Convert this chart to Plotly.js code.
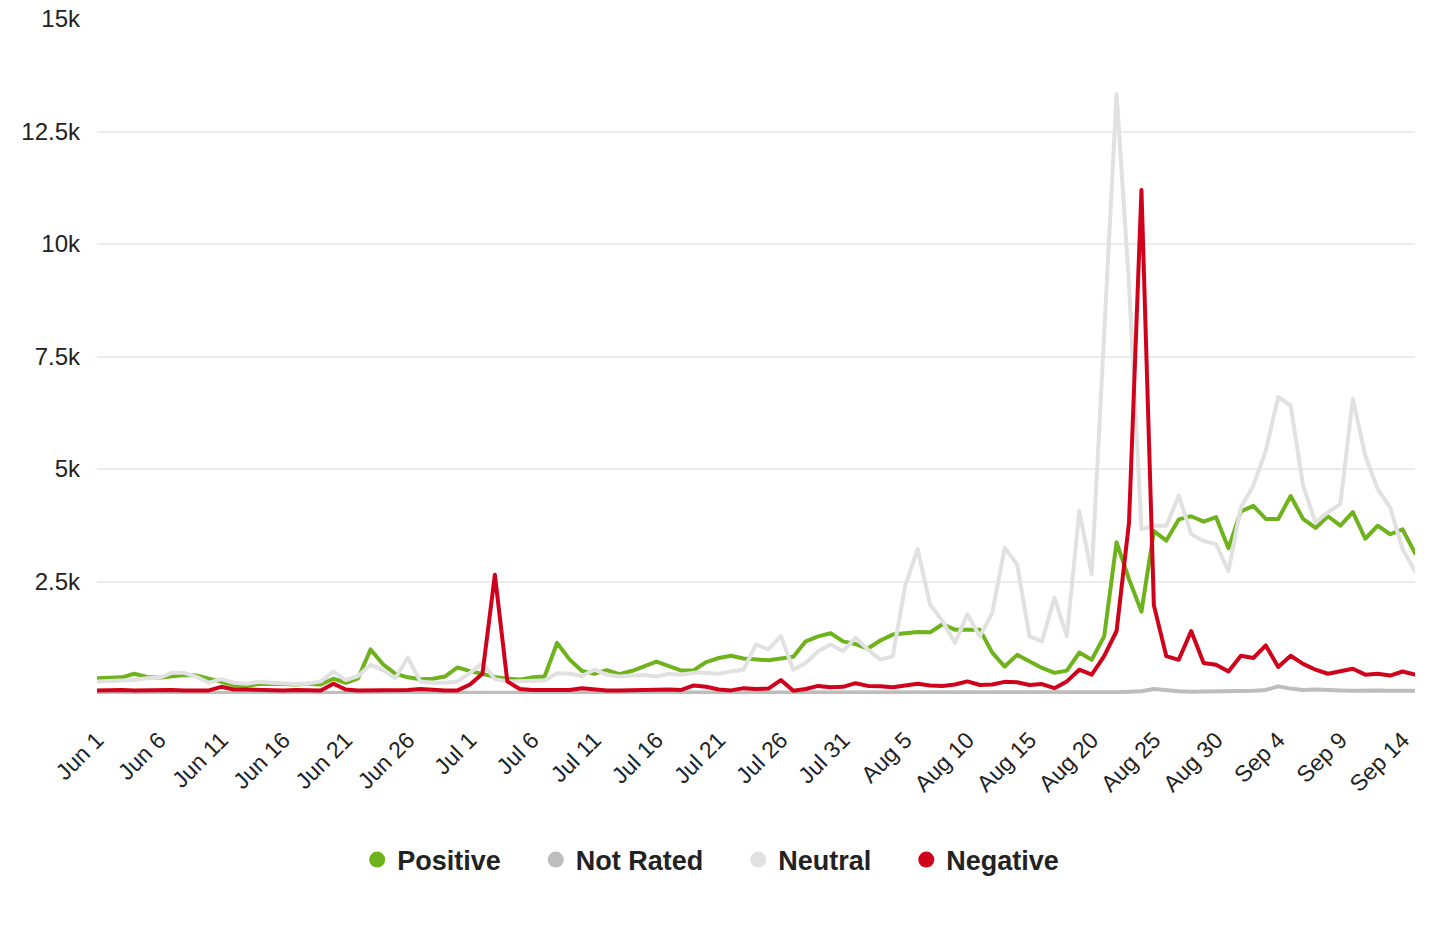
<!DOCTYPE html>
<html>
<head>
<meta charset="utf-8">
<script src="https://cdn.plot.ly/plotly-3.0.1.min.js"></script>
<style>
  body { margin: 0; background: #fff; }
  #chart { width: 1436px; height: 936px; }
  .scatterlayer path.js-line { stroke-linejoin: round; stroke-linecap: round; }
</style>
</head>
<body>
<div id="chart"></div>
<script>
// daily counts, Jun 1 - Sep 15
var startDay = "2023-06-01";
var dayCount = 107;

var positive = [350,360,370,450,380,360,380,420,410,350,270,190,180,220,230,220,210,230,210,340,
  250,350,990,660,450,370,330,340,390,590,510,440,380,340,320,370,390,1135,770,510,
  450,530,440,510,610,720,620,520,530,710,800,850,790,760,750,790,830,1170,1280,1350,
  1170,1110,1010,1190,1320,1350,1380,1370,1550,1430,1440,1430,920,610,870,720,580,470,520,920,
  760,1280,3370,2550,1830,3620,3410,3880,3950,3830,3930,3240,4060,4180,3890,3890,4400,3890,3690,3950,
  3740,4040,3450,3740,3550,3660,3130];

var notRated = [20,25,20,20,25,20,20,25,20,20,25,20,20,20,25,20,20,20,25,20,
  25,20,25,20,20,25,20,20,25,25,25,30,25,25,25,30,25,25,25,30,
  25,25,30,25,25,25,30,25,25,30,25,25,30,25,30,30,25,30,30,30,
  30,30,30,35,30,30,35,30,30,35,30,35,30,35,35,30,35,35,35,40,
  35,40,40,50,60,110,80,60,50,50,55,60,60,70,90,170,120,90,100,100,
  80,70,80,80,70,70,70];

var neutral = [280,290,290,310,350,360,470,470,380,250,330,250,230,270,250,230,220,230,280,500,
  310,400,650,530,350,810,280,250,250,280,470,690,330,280,280,280,300,460,450,400,
  540,430,390,410,420,390,450,430,470,470,450,500,540,1100,990,1285,540,690,950,1100,
  950,1250,990,765,840,2400,3220,1990,1620,1135,1770,1280,1800,3250,2880,1280,1170,2140,1280,4070,
  2660,8000,13330,9100,3660,3740,3740,4410,3550,3400,3330,2730,4150,4630,5410,6600,6410,4630,3810,4040,
  4220,6560,5300,4550,4150,3220,2730];

var negative = [80,90,90,80,90,90,90,80,80,80,160,100,100,90,90,80,90,80,80,230,
  100,80,80,80,90,90,110,90,80,80,210,450,2650,280,110,90,90,90,90,130,
  100,80,80,90,90,90,100,90,190,160,100,80,130,110,120,310,70,110,180,150,
  160,240,180,170,150,190,230,190,180,210,280,200,210,270,260,200,220,130,280,540,
  430,840,1400,3810,11200,1970,840,760,1400,690,650,500,850,800,1080,600,850,670,540,450,
  500,560,430,450,410,500,430];

var names = ["Positive", "Not Rated", "Neutral", "Negative"];
var colors = ["#6fb31c", "#bdbdbd", "#e1e1e1", "#d0021b"];
var yTickVals = [0, 2500, 5000, 7500, 10000, 12500, 15000];
var yTickText = ["", "2.5k", "5k", "7.5k", "10k", "12.5k", "15k"];

var dates = [];
var d0 = new Date(startDay + "T00:00:00Z");
for (var i = 0; i < dayCount; i++) {
    var d = new Date(d0.getTime() + i * 86400000);
    dates.push(d.toISOString().slice(0, 10));
}

var pad = "\u00a0\u00a0\u00a0\u00a0"; // extra room between legend items

var series = [positive, notRated, neutral, negative];
var data = [];
series.forEach(function (ys, k) {
    data.push({
        x: dates,
        y: ys,
        type: "scatter",
        mode: "lines",
        name: names[k],
        showlegend: false,
        hoverinfo: "skip",
        line: { color: colors[k], width: 4 }
    });
});
// legend entries drawn as dots
series.forEach(function (ys, k) {
    data.push({
        x: [null],
        y: [null],
        type: "scatter",
        mode: "markers",
        name: names[k] + pad,
        marker: { color: colors[k], size: 16 }
    });
});

var layout = {
    width: 1436,
    height: 936,
    paper_bgcolor: "#fff",
    plot_bgcolor: "#fff",
    margin: { l: 97, r: 21, t: 19, b: 242 },
    font: { family: "Liberation Sans, Arial, Helvetica, sans-serif", color: "#222" },
    showlegend: true,
    legend: {
        orientation: "h",
        x: 0.477,
        xanchor: "center",
        y: -0.246,
        yanchor: "middle",
        font: { size: 27, color: "#222", weight: "bold" },
        itemclick: false
    },
    xaxis: {
        type: "date",
        range: [dates[0], dates[dayCount - 1]],
        tick0: startDay,
        dtick: 5 * 86400000,
        tickformat: "%b %-d",
        tickangle: -45,
        tickfont: { size: 23, color: "#222" },
        ticks: "",
        ticklabelstandoff: 27,
        showgrid: false,
        zeroline: false,
        showline: false
    },
    yaxis: {
        range: [0, 15000],
        tickvals: yTickVals,
        ticktext: yTickText,
        tickfont: { size: 24, color: "#222" },
        ticks: "",
        ticklabelstandoff: 16,
        showgrid: true,
        gridcolor: "#ececec",
        gridwidth: 2,
        zeroline: false,
        showline: false
    }
};

Plotly.newPlot("chart", data, layout, { displayModeBar: false, responsive: false });
</script>
</body>
</html>
